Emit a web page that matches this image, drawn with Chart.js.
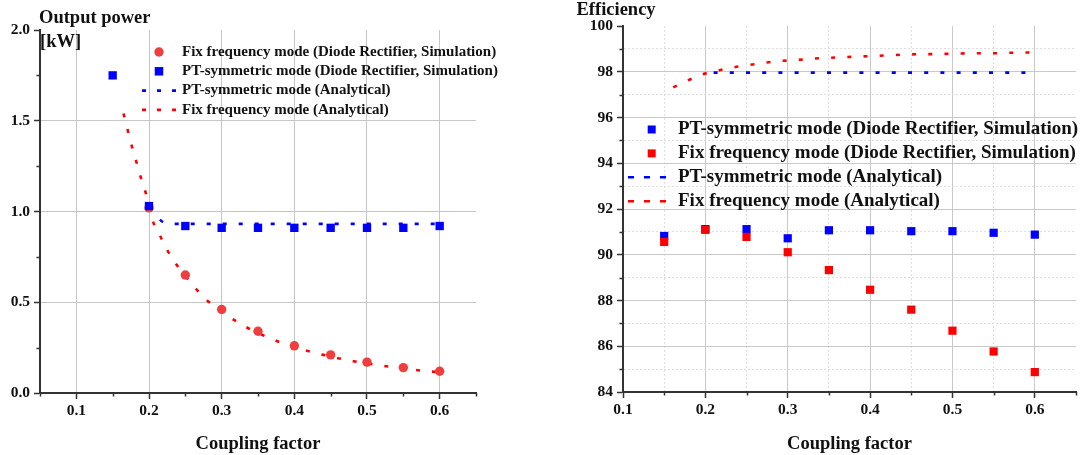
<!DOCTYPE html>
<html>
<head>
<meta charset="utf-8">
<title>Output power and efficiency versus coupling factor</title>
<script src="https://cdn.jsdelivr.net/npm/chart.js@4.4.0/dist/chart.umd.min.js"></script>
<style>
  html, body { margin: 0; padding: 0; background: #ffffff; }
  #wrap { position: relative; width: 1084px; height: 455px; overflow: hidden; }
  #powerBox { position: absolute; left: 0; top: 0; width: 540px; height: 455px; }
  #effBox { position: absolute; left: 540px; top: 0; width: 544px; height: 455px; }
</style>
</head>
<body>
<div id="wrap">
  <div id="powerBox"><canvas id="power" width="540" height="455"></canvas></div>
  <div id="effBox"><canvas id="eff" width="544" height="455"></canvas></div>
</div>
<script>
// ---- data -------------------------------------------------------------
// coupling factors of the simulated operating points
const couplingSim = [0.15, 0.20, 0.25, 0.30, 0.35, 0.40, 0.45, 0.50, 0.55, 0.60];

// output power [kW], diode rectifier simulation
const ptPowerSim  = [1.75, 1.03, 0.92, 0.91, 0.91, 0.91, 0.91, 0.91, 0.91, 0.92];
const fixPowerSim = [null, 1.02, 0.65, 0.46, 0.34, 0.26, 0.21, 0.17, 0.14, 0.12];

// output power [kW], analytical
const ptPowerCoupling = [0.20, 0.21, 0.22, 0.23, 0.30, 0.40, 0.50, 0.60];
const ptPowerCalc     = [1.02, 0.975, 0.94, 0.932, 0.932, 0.932, 0.932, 0.932];
const fixPowerCoupling = [0.165, 0.17, 0.175, 0.18, 0.185, 0.19, 0.195, 0.20, 0.205, 0.21, 0.215, 0.22,
                          0.23, 0.24, 0.25, 0.26, 0.27, 0.28, 0.30, 0.32, 0.34, 0.36, 0.38, 0.40,
                          0.42, 0.44, 0.46, 0.48, 0.50, 0.52, 0.54, 0.56, 0.58, 0.60];
const fixPowerCalc     = [1.54, 1.46, 1.38, 1.31, 1.24, 1.17, 1.11, 1.03, 0.95, 0.905, 0.869, 0.825,
                          0.755, 0.695, 0.645, 0.595, 0.55, 0.51, 0.448, 0.395, 0.35, 0.313, 0.28, 0.253,
                          0.23, 0.21, 0.192, 0.176, 0.163, 0.151, 0.14, 0.13, 0.121, 0.114];

// efficiency [%], diode rectifier simulation
const ptEffSim  = [90.82, 91.12, 91.12, 90.72, 91.07, 91.07, 91.03, 91.03, 90.96, 90.88];
const fixEffSim = [90.56, 91.09, 90.78, 90.11, 89.33, 88.47, 87.60, 86.68, 85.77, 84.87];

// efficiency [%], analytical
const ptEffCoupling = [0.21, 0.30, 0.40, 0.50, 0.60];
const ptEffCalc     = [97.96, 97.96, 97.96, 97.96, 97.96];
const fixEffCoupling = [0.161, 0.18, 0.194, 0.214, 0.234, 0.252, 0.272, 0.291, 0.31, 0.33, 0.35, 0.37,
                        0.39, 0.41, 0.43, 0.45, 0.47, 0.49, 0.51, 0.53, 0.55, 0.57, 0.59, 0.60];
const fixEffCalc     = [97.32, 97.64, 97.86, 98.04, 98.19, 98.29, 98.39, 98.47, 98.51, 98.57, 98.61, 98.64,
                        98.67, 98.70, 98.73, 98.76, 98.77, 98.78, 98.80, 98.81, 98.81, 98.83, 98.84, 98.84];

// series names
const nameFixSim = 'Fix frequency mode (Diode Rectifier, Simulation)';
const namePtSim  = 'PT-symmetric mode (Diode Rectifier, Simulation)';
const namePtCalc = 'PT-symmetric mode (Analytical)';
const nameFixCalc = 'Fix frequency mode (Analytical)';

// axis texts
const xTitle = 'Coupling factor';
const powerTitle = ['Output power', '[kW]'];
const effTitle = ['Efficiency'];

// ---- helpers ----------------------------------------------------------
const pairs = (xs, ys) => xs.map((x, i) => ({ x: x, y: ys[i] })).filter(p => p.y !== null);
const SERIF = "'Liberation Serif', 'Times New Roman', Times, serif";
const ink = '#111111';
const clear = 'rgba(0,0,0,0)';

Chart.defaults.font.family = SERIF;
Chart.defaults.color = ink;

// legend drawn inside the plot area
const insetLegend = {
  id: 'insetLegend',
  afterDraw(chart, args, o) {
    const ctx = chart.ctx;
    ctx.save();
    ctx.font = 'bold ' + o.fontSize + 'px ' + SERIF;
    ctx.textBaseline = 'middle';
    ctx.textAlign = 'left';
    chart.data.datasets.forEach((ds, i) => {
      const y = o.top + i * o.rowGap;
      if (ds.showLine) {
        ctx.strokeStyle = ds.borderColor;
        ctx.lineWidth = ds.borderWidth;
        ctx.setLineDash(o.dash);
        ctx.beginPath();
        ctx.moveTo(o.lineStart, y);
        ctx.lineTo(o.lineEnd, y);
        ctx.stroke();
        ctx.setLineDash([]);
      } else {
        ctx.fillStyle = ds.backgroundColor;
        if (ds.pointStyle === 'circle') {
          ctx.beginPath();
          ctx.arc(o.markerX, y, o.circleR, 0, Math.PI * 2);
          ctx.fill();
        } else {
          ctx.fillRect(o.markerX - o.square / 2, y - o.square / 2, o.square, o.square);
        }
      }
      ctx.fillStyle = ink;
      ctx.fillText(ds.label, o.textX, y);
    });
    ctx.restore();
  }
};

// y-axis caption written above the axis
const axisCaption = {
  id: 'axisCaption',
  afterDraw(chart, args, o) {
    const ctx = chart.ctx;
    ctx.save();
    ctx.font = 'bold ' + o.fontSize + 'px ' + SERIF;
    ctx.fillStyle = ink;
    ctx.textBaseline = 'alphabetic';
    ctx.textAlign = 'left';
    o.lines.forEach((t, i) => ctx.fillText(t, o.x + (o.indent[i] || 0), o.baselines[i]));
    ctx.restore();
  }
};

// shorter tick marks for the minor (unlabelled) ticks
const minorTicks = {
  id: 'minorTicks',
  afterDraw(chart, args, o) {
    const ctx = chart.ctx;
    const { x, y } = chart.scales;
    ctx.save();
    ctx.strokeStyle = '#333';
    ctx.lineWidth = 1.5;
    ctx.beginPath();
    x.ticks.forEach(t => {
      if (o.isMajorX(t.value)) return;
      const px = Math.round(x.getPixelForValue(t.value)) + 0.5;
      ctx.moveTo(px, y.bottom);
      ctx.lineTo(px, y.bottom + o.len);
    });
    y.ticks.forEach(t => {
      if (o.isMajorY(t.value)) return;
      const py = Math.round(y.getPixelForValue(t.value)) + 0.5;
      ctx.moveTo(x.left, py);
      ctx.lineTo(x.left - o.len, py);
    });
    ctx.stroke();
    ctx.restore();
  }
};

const tickFont = { family: SERIF, size: 15.5, weight: 'bold' };
const titleFont = { family: SERIF, size: 18.5, weight: 'bold' };
const hundred = v => Math.round(v * 100);

// ---- output power -----------------------------------------------------
const powerMajorX = v => hundred(v) % 10 === 0;
const powerMajorY = v => hundred(v) % 50 === 0;
new Chart(document.getElementById('power'), {
  type: 'scatter',
  data: {
    datasets: [
      { label: nameFixSim, data: pairs(couplingSim, fixPowerSim), pointStyle: 'circle', pointRadius: 4.7,
        backgroundColor: '#ef3e3e', borderColor: '#ef3e3e', pointBorderWidth: 0, order: 1 },
      { label: namePtSim, data: pairs(couplingSim, ptPowerSim), pointStyle: 'rect', pointRadius: 5.9,
        backgroundColor: '#0000ff', borderColor: '#0000ff', pointBorderWidth: 0, order: 0 },
      { label: namePtCalc, data: pairs(ptPowerCoupling, ptPowerCalc), showLine: true, pointRadius: 0,
        borderColor: '#0000ff', backgroundColor: '#0000ff', borderWidth: 2.6, borderDash: [4, 12],
        cubicInterpolationMode: 'monotone', order: 2 },
      { label: nameFixCalc, data: pairs(fixPowerCoupling, fixPowerCalc), showLine: true, pointRadius: 0,
        borderColor: '#ff0000', backgroundColor: '#ff0000', borderWidth: 2.6, borderDash: [4, 12],
        cubicInterpolationMode: 'monotone', order: 3 }
    ]
  },
  options: {
    responsive: false,
    animation: false,
    devicePixelRatio: 1,
    layout: { padding: { left: 0, right: 64, top: 30, bottom: 0 } },
    plugins: {
      legend: { display: false },
      tooltip: { enabled: false },
      insetLegend: { fontSize: 15, top: 52, rowGap: 19.3, markerX: 159, textX: 182, circleR: 4.7, square: 8.5,
                     lineStart: 142, lineEnd: 177, dash: [4, 11] },
      axisCaption: { fontSize: 18.5, x: 39, indent: [0, 1], baselines: [22.5, 46.5], lines: powerTitle },
      minorTicks: { len: 3.5, isMajorX: powerMajorX, isMajorY: powerMajorY }
    },
    scales: {
      x: {
        type: 'linear', min: 0.05, max: 0.65,
        afterFit: s => { s.height = 62; },
        ticks: { stepSize: 0.05, autoSkip: false, maxRotation: 0, font: tickFont, color: ink, padding: 3,
                 callback: v => (powerMajorX(v) ? v.toFixed(1) : '') },
        grid: { color: c => (c.tick && powerMajorX(c.tick.value) ? '#c6c6c6' : clear),
                lineWidth: 1, tickLength: 6, tickWidth: 1.5,
                tickColor: c => (c.tick && powerMajorX(c.tick.value) ? '#333' : clear) },
        border: { color: '#333', width: 2 },
        title: { display: true, text: xTitle, font: titleFont, color: ink, padding: { top: 6, bottom: 0 } }
      },
      y: {
        min: 0, max: 2,
        afterFit: s => { s.width = 40; },
        ticks: { stepSize: 0.25, autoSkip: false, font: tickFont, color: ink, padding: 4,
                 callback: v => (powerMajorY(v) ? v.toFixed(1) : '') },
        grid: { color: c => (c.tick && powerMajorY(c.tick.value) && c.tick.value > 0 && c.tick.value < 2 ? '#c6c6c6' : clear),
                lineWidth: 1, tickLength: 6, tickWidth: 1.5,
                tickColor: c => (c.tick && powerMajorY(c.tick.value) ? '#333' : clear) },
        border: { color: '#333', width: 2 }
      }
    }
  },
  plugins: [insetLegend, axisCaption, minorTicks]
});

// ---- efficiency -------------------------------------------------------
const effMajorX = v => hundred(v) % 10 === 0;
const effMajorY = v => Math.round(v) % 2 === 0;
new Chart(document.getElementById('eff'), {
  type: 'scatter',
  data: {
    datasets: [
      { label: namePtSim, data: pairs(couplingSim, ptEffSim), pointStyle: 'rect', pointRadius: 5.8,
        backgroundColor: '#0000ff', borderColor: '#0000ff', pointBorderWidth: 0, order: 1 },
      { label: nameFixSim, data: pairs(couplingSim, fixEffSim), pointStyle: 'rect', pointRadius: 5.8,
        backgroundColor: '#ff0000', borderColor: '#ff0000', pointBorderWidth: 0, order: 0 },
      { label: namePtCalc, data: pairs(ptEffCoupling, ptEffCalc), showLine: true, pointRadius: 0,
        borderColor: '#0000ff', backgroundColor: '#0000ff', borderWidth: 2.6, borderDash: [4, 12.2], order: 2 },
      { label: nameFixCalc, data: pairs(fixEffCoupling, fixEffCalc), showLine: true, pointRadius: 0,
        borderColor: '#ff0000', backgroundColor: '#ff0000', borderWidth: 2.6, borderDash: [4, 12.2],
        cubicInterpolationMode: 'monotone', order: 3 }
    ]
  },
  options: {
    responsive: false,
    animation: false,
    devicePixelRatio: 1,
    layout: { padding: { left: 0, right: 8, top: 26, bottom: 0 } },
    plugins: {
      legend: { display: false },
      tooltip: { enabled: false },
      insetLegend: { fontSize: 19, top: 129.5, rowGap: 23.9, markerX: 111.7, textX: 138, circleR: 4.7, square: 8,
                     lineStart: 88, lineEnd: 126, dash: [6, 10] },
      axisCaption: { fontSize: 18.5, x: 36.5, indent: [0], baselines: [14.5], lines: effTitle },
      minorTicks: { len: 3.5, isMajorX: effMajorX, isMajorY: effMajorY }
    },
    scales: {
      x: {
        type: 'linear', min: 0.1, max: 0.65,
        afterFit: s => { s.height = 63; },
        ticks: { stepSize: 0.05, autoSkip: false, maxRotation: 0, font: tickFont, color: ink, padding: 3,
                 callback: v => (effMajorX(v) ? v.toFixed(1) : '') },
        grid: { color: c => {
                  if (!c.tick) return clear;
                  const h = hundred(c.tick.value);
                  if (h <= 10 || h >= 65) return clear;
                  return h % 10 === 0 ? '#c9c9c9' : '#dedede';
                },
                lineWidth: 1, tickLength: 6, tickWidth: 1.5,
                tickColor: c => (c.tick && effMajorX(c.tick.value) ? '#333' : clear) },
        border: { color: '#333', width: 2,
                  dash: c => (c.tick && !effMajorX(c.tick.value) ? [2, 2] : []) },
        title: { display: true, text: xTitle, font: titleFont, color: ink, padding: { top: 6, bottom: 0 } }
      },
      y: {
        min: 84, max: 100,
        afterFit: s => { s.width = 83; },
        ticks: { stepSize: 1, autoSkip: false, font: tickFont, color: ink, padding: 4,
                 callback: v => (effMajorY(v) ? String(Math.round(v)) : '') },
        grid: { color: c => {
                  if (!c.tick) return clear;
                  const v = Math.round(c.tick.value);
                  if (v <= 84 || v >= 100) return clear;
                  return v % 2 === 0 ? '#c9c9c9' : '#dedede';
                },
                lineWidth: 1, tickLength: 6, tickWidth: 1.5,
                tickColor: c => (c.tick && effMajorY(c.tick.value) ? '#333' : clear) },
        border: { color: '#333', width: 2,
                  dash: c => (c.tick && !effMajorY(c.tick.value) ? [2, 2] : []) }
      }
    }
  },
  plugins: [insetLegend, axisCaption, minorTicks]
});
</script>
</body>
</html>
